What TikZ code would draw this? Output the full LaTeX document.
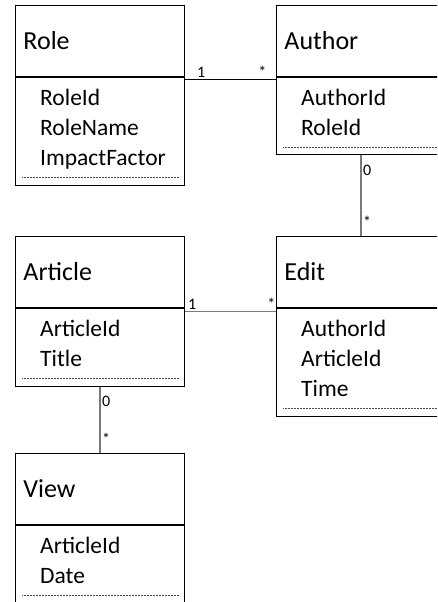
\documentclass[tikz,border=0pt]{standalone}
\usepackage{fontspec}
\setmainfont{Carlito}
\usetikzlibrary{positioning,calc}

\tikzset{
  classhead/.style={draw,line width=0.9pt,anchor=north west,minimum width=169pt,minimum height=71pt,
    inner xsep=8pt,text width=153pt,align=left,font=\fontsize{26}{30}\selectfont},
  classbody/.style={draw,line width=0.9pt,anchor=north west,minimum width=169pt},
  attrs/.style={anchor=north west,inner sep=0pt,align=left,font=\fontsize{23.5}{30}\selectfont},
  assoc/.style={line width=1.1pt,gray!95!black},
  mult/.style={inner sep=1.5pt,text=black,font=\fontsize{16}{18}\selectfont},
  sep/.style={densely dotted,line width=0.5pt,black!70}
}

\begin{document}
\begin{tikzpicture}[x=1pt,y=-1pt]
\useasboundingbox (0,0) rectangle (437,602);
\clip (0,0) rectangle (437,602);

% Role
\node[classhead] (roleHead) at (15,5) {Role};
\node[classbody,minimum height=108pt] (roleBody) at (roleHead.south west) {};
\node[attrs] (roleAttr) at ([xshift=25pt,yshift=-12pt]roleBody.north west) {RoleId\\RoleName\\ImpactFactor};
\draw[sep] ([xshift=7pt,yshift=9pt]roleBody.south west) -- ([xshift=-6pt,yshift=9pt]roleBody.south east);

% Author
\node[classhead] (authorHead) at (276,5) {Author};
\node[classbody,minimum height=77pt] (authorBody) at (authorHead.south west) {};
\node[attrs] (authorAttr) at ([xshift=25pt,yshift=-12pt]authorBody.north west) {AuthorId\\RoleId};
\draw[sep] ([xshift=7pt,yshift=8pt]authorBody.south west) -- ([xshift=-6pt,yshift=8pt]authorBody.south east);

% Article
\node[classhead] (articleHead) at (15,236) {Article};
\node[classbody,minimum height=78pt] (articleBody) at (articleHead.south west) {};
\node[attrs] (articleAttr) at ([xshift=25pt,yshift=-12pt]articleBody.north west) {ArticleId\\Title};
\draw[sep] ([xshift=7pt,yshift=9pt]articleBody.south west) -- ([xshift=-6pt,yshift=9pt]articleBody.south east);

% Edit
\node[classhead] (editHead) at (276,236) {Edit};
\node[classbody,minimum height=108pt] (editBody) at (editHead.south west) {};
\node[attrs] (editAttr) at ([xshift=25pt,yshift=-12pt]editBody.north west) {AuthorId\\ArticleId\\Time};
\draw[sep] ([xshift=7pt,yshift=9pt]editBody.south west) -- ([xshift=-6pt,yshift=9pt]editBody.south east);

% View
\node[classhead] (viewHead) at (15,453) {View};
\node[classbody,minimum height=77pt] (viewBody) at (viewHead.south west) {};
\node[attrs] (viewAttr) at ([xshift=25pt,yshift=-12pt]viewBody.north west) {ArticleId\\Date};
\draw[sep] ([xshift=7pt,yshift=8pt]viewBody.south west) -- ([xshift=-6pt,yshift=8pt]viewBody.south east);

% associations
\draw[line width=1pt] ([yshift=-3pt]roleBody.north east) -- ([yshift=-3pt]authorBody.north west)
  node[mult,pos=0.18,above] (roleOne) {1} node[mult,pos=0.85,above] (authorMany) {*};
\draw[assoc] ([yshift=-4pt]articleBody.north east) -- ([yshift=-4pt]editBody.north west)
  node[mult,pos=0.08,above] (articleOne) {1} node[mult,pos=0.95,above] (editMany) {*};
\draw[assoc] (authorBody.south) -- (editHead.north)
  node[mult,pos=0.19,right] (authorZero) {0} node[mult,pos=0.83,right] (editStar) {*};
\draw[assoc] (articleBody.south) -- (viewHead.north)
  node[mult,pos=0.22,right] (articleZero) {0} node[mult,pos=0.78,right] (viewMany) {*};
\end{tikzpicture}
\end{document}
